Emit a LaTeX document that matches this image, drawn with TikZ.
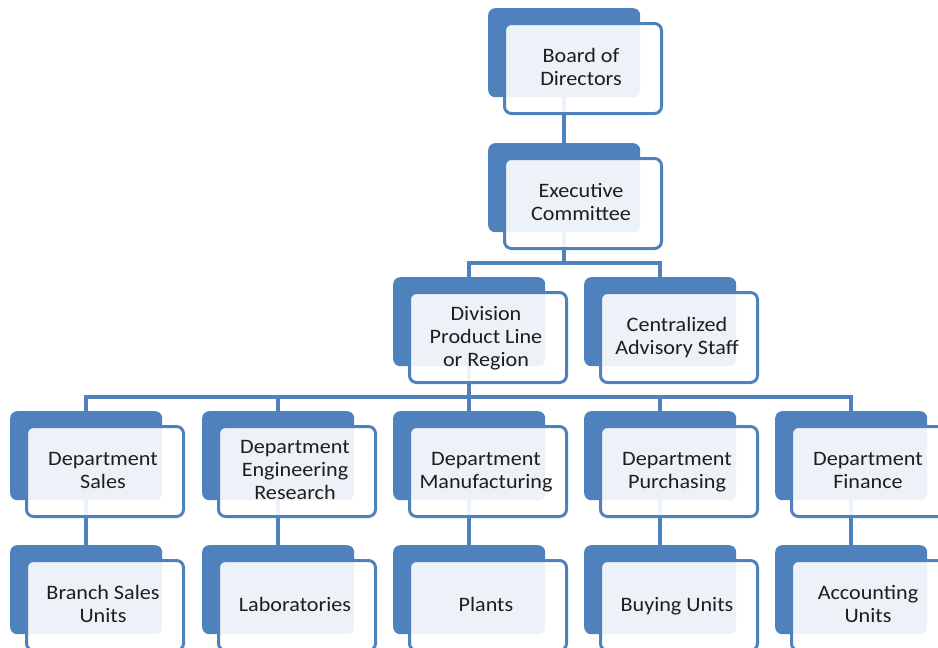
\documentclass[tikz,border=0pt]{standalone}
\usepackage{fontspec}
\setmainfont{Carlito}
\usetikzlibrary{backgrounds}
\definecolor{orgblue}{HTML}{4F81BD}
\definecolor{txtgray}{HTML}{1E1E1E}
\tikzset{
  backbox/.style={draw=none, fill=orgblue, rounded corners=7pt,
    minimum width=152pt, minimum height=89pt, inner sep=0pt, anchor=north west},
  frontbox/.style={draw=orgblue, line width=3pt, fill=white, fill opacity=0.9,
    rounded corners=7pt, minimum width=157pt, minimum height=90pt,
    inner sep=0pt, anchor=north west},
  lbl/.style={align=center, text=txtgray, inner sep=0pt, text depth=0pt,
    xscale=1.08, transform shape,
    font=\fontsize{20.5}{23}\selectfont},
  link/.style={draw=orgblue, line width=3.5pt},
}
% one chart unit: shadow card, overlaid card and its caption
\newcommand\orgunit[4]{%
  \node[backbox] (#1-back) at (#2,#3) {};
  \node[frontbox] (#1) at (#2+15,#3+14) {};
  \node[lbl] (#1-text) at ([xshift=-2pt,yshift=1.5pt]#1.center) {#4};
}
\begin{document}
\begin{tikzpicture}[x=1pt,y=-1pt]
\useasboundingbox (0,0) rectangle (938,648);
\clip (0,0) rectangle (938,648);

\orgunit{board}{488}{8}{Board of\\Directors}
\orgunit{exec}{488}{143}{Executive\\Committee}
\orgunit{div}{393}{277}{Division\\Product Line\\or Region}
\orgunit{cas}{584}{277}{Centralized\\Advisory Staff}

\orgunit{sales}{10}{411}{Department\\Sales}
\orgunit{eng}{202}{411}{Department\\Engineering\\Research}
\orgunit{manu}{393}{411}{Department\\Manufacturing}
\orgunit{purch}{584}{411}{Department\\Purchasing}
\orgunit{fin}{775}{411}{Department\\Finance}

\orgunit{branch}{10}{545}{Branch Sales\\Units}
\orgunit{labs}{202}{545}{Laboratories}
\orgunit{plants}{393}{545}{Plants}
\orgunit{buying}{584}{545}{Buying Units}
\orgunit{acct}{775}{545}{Accounting\\Units}

\coordinate (bus3) at (0,263);
\coordinate (bus4) at (0,397);

\begin{scope}[on background layer]
  \draw[link] (board-back.center) -- (exec-back.north);
  \draw[link] (exec-back.center) -- (exec-back.center |- bus3);
  \draw[link] (div-back.north) -- (div-back.north |- bus3)
              -- (cas-back.north |- bus3) -- (cas-back.north);
  \draw[link] (div-back.center) -- (div-back.center |- bus4);
  \draw[link] (sales-back.north) -- (sales-back.north |- bus4)
              -- (fin-back.north |- bus4) -- (fin-back.north);
  \draw[link] (eng-back.north) -- (eng-back.north |- bus4);
  \draw[link] (manu-back.north) -- (manu-back.north |- bus4);
  \draw[link] (purch-back.north) -- (purch-back.north |- bus4);
  \draw[link] (sales-back.center) -- (branch-back.north);
  \draw[link] (eng-back.center) -- (labs-back.north);
  \draw[link] (manu-back.center) -- (plants-back.north);
  \draw[link] (purch-back.center) -- (buying-back.north);
  \draw[link] (fin-back.center) -- (acct-back.north);
\end{scope}
\end{tikzpicture}
\end{document}
